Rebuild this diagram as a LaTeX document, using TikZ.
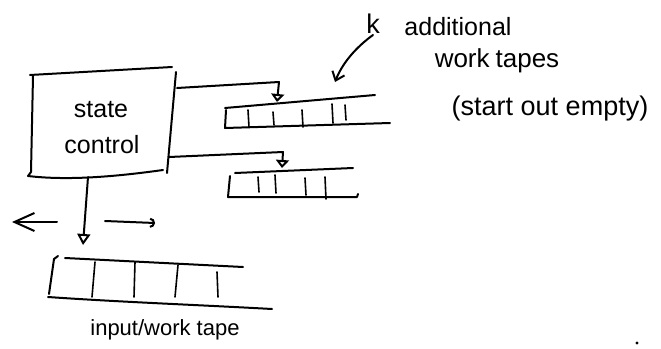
\documentclass[tikz,border=0pt]{standalone}
\usepackage{fontspec}
\setmainfont{Liberation Sans}
\usetikzlibrary{arrows.meta}
\begin{document}
\begin{tikzpicture}[x=1pt,y=-1pt, line cap=round, line join=round,
  pen/.style={line width=2pt, draw=black},
  thin pen/.style={line width=1.6pt, draw=black},
  lbl/.style={anchor=base, inner sep=0pt, font=\fontsize{25}{30}\selectfont},
  tri/.style={-{Triangle[open,length=8pt,width=13pt]}},
  bigtri/.style={-{Triangle[open,length=11pt,width=13pt]}},
  barb/.style={-{Straight Barb[length=20pt,width=18pt]}},
  smallbarb/.style={-{Straight Barb[length=8pt,width=13pt]}},
  hook/.style={-{Arc Barb[length=5pt,width=10pt]}},
]
\useasboundingbox (0,0) rectangle (661,348);

% state control box
\draw[pen] (30,75) -- (172,67);
\draw[pen] (33,76) -- (31,172) -- (28,176) .. controls (70,181) and (120,176) .. (163,170);
\draw[pen] (176,72) -- (167,173);
\node[lbl] (st) at (101,117) {state};
\node[lbl] (ct) at (102,153) {control};

% named connector points
\coordinate (b1) at (177,88);
\coordinate (c1) at (279,82);
\coordinate (h1) at (277,102);
\coordinate (b2) at (169,157);
\coordinate (c2) at (283,152);
\coordinate (h2) at (282,168);
\coordinate (b3) at (88,177);
\coordinate (h3) at (83,245);
\coordinate (l1) at (57,222);
\coordinate (l2) at (12,222);
\coordinate (r1) at (105,221);
\coordinate (r2) at (155,223);
\coordinate (k1) at (373,35);
\coordinate (k2) at (335,82);

\draw[pen, tri] (b1) -- (c1) -- (h1);
\draw[pen, tri] (b2) -- (c2) -- (h2);
\draw[pen, bigtri] (b3) -- (h3);
\draw[pen, barb] (l1) -- (l2);
\draw[pen, hook] (r1) -- (r2);
\draw[pen, smallbarb] (k1) .. controls (355,48) and (342,64) .. (k2);

% upper work tape
\draw[pen] (225,108) -- (375,95);
\draw[pen] (226,110) -- (225,128) -- (390,123);
\foreach \x/\a/\b in {248/110/127, 273/112/125, 302/110/127, 332/104/123, 345/105/120}
  \draw[thin pen] (\x,\a) -- (\x+1,\b);

% lower work tape
\draw[pen] (235,173) -- (353,168);
\draw[pen] (230,176) -- (228,197) -- (357,197) -- (358,194);
\foreach \x/\a/\b in {258/177/192, 275/175/193, 305/178/195, 325/177/199}
  \draw[thin pen] (\x,\a) -- (\x+1,\b);

% input/work tape
\draw[pen] (65,258) -- (243,267);
\draw[pen] (58,256) -- (54,259) -- (49,294);
\draw[pen] (48,297) .. controls (120,302) and (200,305) .. (272,309);
\foreach \x/\a/\c in {95/262/92, 135/262/134, 178/265/175, 217/272/218}
  \draw[thin pen] (\x,\a) -- (\c,297);

% labels
\node[lbl, font=\fontsize{22}{26}\selectfont] (inlbl) at (165,335) {input/work tape};
\node[lbl, font=\fontsize{27}{30}\selectfont] (k) at (373,33) {k};
\node[lbl] (add) at (458,35) {additional};
\node[lbl, font=\fontsize{26}{30}\selectfont] (wt) at (497,67) {work\hspace{6pt}tapes};
\node[lbl, font=\fontsize{27}{30}\selectfont] (se) at (550,115) {(start out empty)};

% stray dot
\fill (637,343) circle (1.6pt);
\end{tikzpicture}
\end{document}
